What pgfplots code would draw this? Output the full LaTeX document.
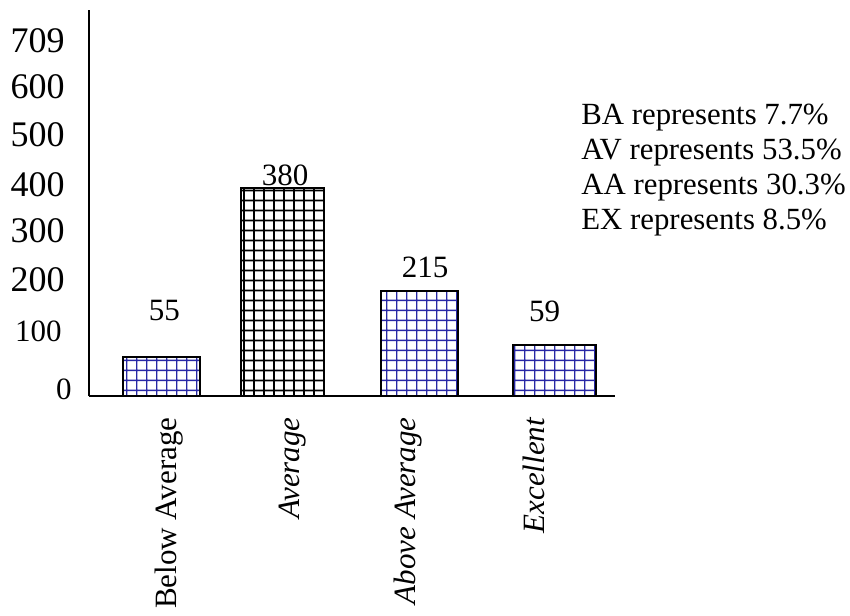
\documentclass[border=0pt]{standalone}
\usepackage{fontspec}
\setmainfont{Liberation Serif}
\usepackage{pgfplots}
\pgfplotsset{compat=1.18}
\usepackage{pgfplotstable}
\usetikzlibrary{patterns}
\definecolor{gridblue}{RGB}{40,40,165}

\pgfdeclarepatternformonly{bluegrid}{\pgfpointorigin}{\pgfqpoint{5.1pt}{5pt}}{\pgfqpoint{5.1pt}{5pt}}{%
  \pgfsetlinewidth{0.75pt}%
  \pgfpathmoveto{\pgfqpoint{2.55pt}{-0.5pt}}\pgfpathlineto{\pgfqpoint{2.55pt}{5.5pt}}%
  \pgfpathmoveto{\pgfqpoint{-0.5pt}{2.5pt}}\pgfpathlineto{\pgfqpoint{5.6pt}{2.5pt}}%
  \pgfusepath{stroke}}
\pgfdeclarepatternformonly{blackgrid}{\pgfpointorigin}{\pgfqpoint{5.2pt}{5pt}}{\pgfqpoint{5.2pt}{5pt}}{%
  \pgfsetlinewidth{0.95pt}%
  \pgfpathmoveto{\pgfqpoint{2.6pt}{-0.5pt}}\pgfpathlineto{\pgfqpoint{2.6pt}{5.5pt}}%
  \pgfpathmoveto{\pgfqpoint{-0.5pt}{2.5pt}}\pgfpathlineto{\pgfqpoint{5.7pt}{2.5pt}}%
  \pgfusepath{stroke}}

% bar centre x, drawn height, labelled value, label position
\pgfplotstableread{
x h val lx ly
161.5 39 55 164.5 85
282.5 208 380 285 221
419.5 105 215 425 128.5
554.5 51 59 544.7 85
}\datatable

\begin{document}
\begin{tikzpicture}
\begin{axis}[
  x=0.5pt, y=0.5pt,
  xmin=89, xmax=615, ymin=0, ymax=386,
  enlargelimits=false,
  clip=false,
  axis x line=bottom, axis y line=left,
  axis line style={-, line width=1.25pt, black},
  major tick length=0pt,
  tick style={draw=none},
  /pgf/number format/assume math mode=true,
  ytick={7,65,116,165,211,261.5,309,355},
  yticklabels={{\fontsize{15.5}{18}\selectfont 0\kern-3.5pt},{\fontsize{15.5}{18}\selectfont 100\kern1.5pt},200,300,400,500,600,709},
  yticklabel style={font=\fontsize{18}{20}\selectfont, inner sep=0pt, anchor=east, xshift=-12pt},
  xtick={169,293,408,534},
  xticklabels={Below Average,\textit{Average},\textit{Above Average},\textit{Excellent}},
  xticklabel style={font=\fontsize{15.5}{18}\selectfont, inner sep=0pt, yshift=-10.5pt, rotate=90, anchor=east},
]
\addplot[ybar, bar width=77, draw=black, line width=0.8pt, pattern=bluegrid, pattern color=gridblue]
  coordinates {(161.5,39) (419.5,105)};
\addplot[ybar, bar width=83, draw=black, line width=0.8pt, pattern=bluegrid, pattern color=gridblue]
  coordinates {(554.5,51)};
\addplot[ybar, bar width=83, draw=black, line width=1.1pt, pattern=blackgrid, pattern color=black]
  coordinates {(282.5,208)};
\addplot[only marks, mark=none,
  nodes near coords, point meta=explicit symbolic,
  nodes near coords style={font=\fontsize{15.5}{18}\selectfont, anchor=center, inner sep=0pt, text=black}]
  table[x=lx, y=ly, meta=val] {\datatable};
\node[anchor=base west, inner sep=0pt, font=\fontsize{15.4}{18}\selectfont] at (axis cs:581,271) {BA represents 7.7\%};
\node[anchor=base west, inner sep=0pt, font=\fontsize{15.4}{18}\selectfont] at (axis cs:581,236) {AV represents 53.5\%};
\node[anchor=base west, inner sep=0pt, font=\fontsize{15.4}{18}\selectfont] at (axis cs:581,201) {AA represents 30.3\%};
\node[anchor=base west, inner sep=0pt, font=\fontsize{15.4}{18}\selectfont] at (axis cs:581,166) {EX represents 8.5\%};
\path (axis cs:0,-219) rectangle (axis cs:850,396);
\end{axis}
\end{tikzpicture}
\end{document}
